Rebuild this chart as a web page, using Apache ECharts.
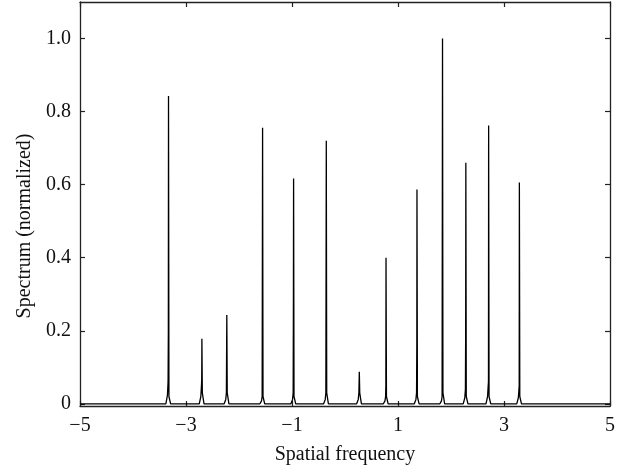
<!DOCTYPE html>
<html>
<head>
<meta charset="utf-8">
<script src="https://cdn.jsdelivr.net/npm/echarts@6/dist/echarts.min.js"></script>
<style>
  html, body { margin: 0; padding: 0; background: #fff; }
  #chart { width: 631px; height: 473px; }
</style>
</head>
<body>
<div id="chart"></div>
<script>
// spectrum samples, one row per peak
const freq = [
  -5,
  -3.38, -3.35, -3.338, -3.333, -3.33, -3.322, -3.29,
  -2.75, -2.72, -2.708, -2.703, -2.70, -2.692, -2.66,
  -2.28, -2.25, -2.238, -2.233, -2.23, -2.222, -2.19,
  -1.605, -1.575, -1.563, -1.558, -1.555, -1.547, -1.515,
  -1.02, -0.99, -0.978, -0.973, -0.97, -0.962, -0.93,
  -0.403, -0.373, -0.361, -0.356, -0.353, -0.345, -0.313,
  0.22, 0.25, 0.262, 0.267, 0.27, 0.278, 0.31,
  0.724, 0.754, 0.766, 0.771, 0.774, 0.782, 0.814,
  1.308, 1.338, 1.350, 1.355, 1.358, 1.366, 1.398,
  1.79, 1.82, 1.832, 1.837, 1.84, 1.848, 1.88,
  2.23, 2.26, 2.272, 2.277, 2.28, 2.288, 2.32,
  2.66, 2.69, 2.702, 2.707, 2.71, 2.718, 2.75,
  3.24, 3.27, 3.282, 3.287, 3.29, 3.298, 3.33,
  5
];
const spectrum = [
  0,
  0, 0.024, 0.06, 0.2, 0.843, 0.02, 0,
  0, 0.02, 0.05, 0.07, 0.178, 0.03, 0,
  0, 0.012, 0.03, 0.03, 0.243, 0.03, 0,
  0, 0.008, 0.02, 0.02, 0.756, 0.02, 0,
  0, 0.012, 0.03, 0.3, 0.617, 0.02, 0,
  0, 0.012, 0.03, 0.03, 0.72, 0.03, 0,
  0, 0.012, 0.03, 0.03, 0.088, 0.03, 0,
  0, 0.008, 0.02, 0.05, 0.40, 0.02, 0,
  0, 0.012, 0.03, 0.16, 0.587, 0.02, 0,
  0, 0.008, 0.02, 0.02, 1.0, 0.03, 0,
  0, 0.016, 0.04, 0.2, 0.66, 0.02, 0,
  0, 0.02, 0.05, 0.06, 0.762, 0.02, 0,
  0, 0.016, 0.04, 0.05, 0.606, 0.02, 0,
  0
];
const xTickLabels = [-5, -3, -1, 1, 3, 5];
const yTickLabels = [0, 0.2, 0.4, 0.6, 0.8, 1.0];

const chart = echarts.init(document.getElementById('chart'));

const font = 'Liberation Serif';
const axisColor = '#222';
const minus = v => (v < 0 ? '\u2212' + Math.abs(v) : String(v));

const xBase = {
  type: 'value',
  min: -5,
  max: 5,
  axisLine: { show: true, onZero: false, lineStyle: { color: axisColor, width: 1.3 } },
  axisTick: { show: true, inside: true, length: 5, customValues: xTickLabels,
    lineStyle: { color: axisColor, width: 1.2 } },
  splitLine: { show: false }
};
const yBase = {
  type: 'value',
  min: -0.006,
  max: 1.1,
  axisLine: { show: true, onZero: false, lineStyle: { color: axisColor, width: 1.3 } },
  axisTick: { show: true, inside: true, length: 5, customValues: yTickLabels,
    lineStyle: { color: axisColor, width: 1.2 } },
  splitLine: { show: false }
};

const option = {
  backgroundColor: '#fff',
  animation: false,
  grid: { left: 80, right: 21, top: 2, bottom: 67 },
  xAxis: [
    Object.assign({}, xBase, {
      position: 'bottom',
      name: 'Spatial frequency',
      nameLocation: 'middle',
      nameGap: 39,
      nameTextStyle: { fontFamily: font, fontSize: 20, color: '#111' },
      axisLabel: {
        customValues: xTickLabels,
        margin: 10,
        fontFamily: font, fontSize: 20, color: '#111',
        formatter: minus
      }
    }),
    Object.assign({}, xBase, {
      position: 'top',
      axisLabel: { show: false }
    })
  ],
  yAxis: [
    Object.assign({}, yBase, {
      position: 'left',
      name: 'Spectrum (normalized)',
      nameLocation: 'middle',
      nameGap: 45,
      nameTextStyle: { fontFamily: font, fontSize: 20, color: '#111', padding: [0, 44, 0, 0] },
      axisLabel: {
        customValues: yTickLabels,
        margin: 9,
        fontFamily: font, fontSize: 20, color: '#111',
        formatter: v => (v === 0 ? '0' : v.toFixed(1))
      }
    }),
    Object.assign({}, yBase, {
      position: 'right',
      axisLabel: { show: false }
    })
  ],
  series: [
    {
      type: 'line',
      data: freq.map((f, i) => [f, spectrum[i]]),
      showSymbol: false,
      symbol: 'none',
      lineStyle: { color: '#000', width: 1.3 },
      xAxisIndex: 0,
      yAxisIndex: 0
    }
  ]
};

chart.setOption(option);
</script>
</body>
</html>
